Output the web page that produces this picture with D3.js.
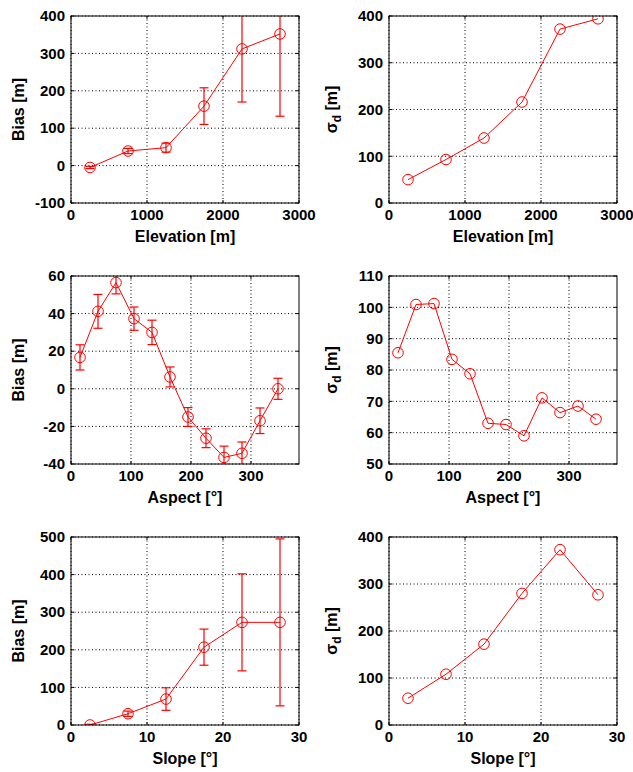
<!DOCTYPE html>
<html>
<head>
<meta charset="utf-8">
<script src="https://cdn.jsdelivr.net/npm/d3@7"></script>
<style>
  body { margin: 0; background: #fff; }
  svg text { font-family: "Liberation Sans", Arial, sans-serif; font-weight: bold; fill: #000; }
</style>
</head>
<body>
<svg id="fig" width="633" height="772"></svg>
<script>
// values
const elevBins = [250, 750, 1250, 1750, 2250, 2750];
const elevBias = [-5, 39, 48, 159, 312, 352];
const elevBiasErr = [3, 7, 12, 49, 142, 220];
const elevSigma = [50, 93, 139, 216, 372, 394];

const aspectBins = [15, 45, 75, 105, 135, 165, 195, 225, 255, 285, 315, 345];
const aspectBias = [16.7, 41.2, 56.5, 37.3, 30, 6.3, -15, -26.3, -36.5, -34.3, -17, 0];
const aspectBiasErr = [6.7, 9, 6, 6.2, 6.5, 5.3, 5, 5, 6, 6, 6.8, 5.6];
const aspectSigma = [85.5, 100.9, 101.2, 83.4, 78.8, 63, 62.6, 59, 71.1, 66.4, 68.5, 64.3];

const slopeBins = [2.5, 7.5, 12.5, 17.5, 22.5, 27.5];
const slopeBias = [0, 30, 69, 207, 273, 273];
const slopeBiasErr = [2, 7, 30, 48, 129, 222];
const slopeSigma = [57, 108, 172, 280, 373, 277];

const elevTicks = [0, 1000, 2000, 3000];
const aspectTicks = [0, 100, 200, 300];
const slopeTicks = [0, 10, 20, 30];

const svg = d3.select("#fig");
svg.append("rect").attr("width", 633).attr("height", 772).attr("fill", "#fff");

let clipId = 0;

function drawPanel(opt) {
    const g = svg.append("g");
    const x = d3.scaleLinear().domain(opt.xDomain).range([opt.left, opt.right]);
    const y = d3.scaleLinear().domain(opt.yDomain).range([opt.bottom, opt.top]);

    // grid (dotted)
    g.selectAll(".gx").data(opt.xTicks).join("line")
        .attr("x1", d => x(d)).attr("x2", d => x(d))
        .attr("y1", opt.top).attr("y2", opt.bottom)
        .attr("stroke", "#000").attr("stroke-width", 1).attr("stroke-dasharray", "1,2.5");
    g.selectAll(".gy").data(opt.yTicks).join("line")
        .attr("y1", d => y(d)).attr("y2", d => y(d))
        .attr("x1", opt.left).attr("x2", opt.right)
        .attr("stroke", "#000").attr("stroke-width", 1).attr("stroke-dasharray", "1,2.5");

    // data
    const id = "clip" + (clipId++);
    g.append("clipPath").attr("id", id).append("rect")
        .attr("x", opt.left).attr("y", opt.top)
        .attr("width", opt.right - opt.left).attr("height", opt.bottom - opt.top);
    const dg = g.append("g").attr("clip-path", `url(#${id})`);
    const pts = opt.xs.map((v, i) => ({x: v, y: opt.ys[i], e: opt.errs ? opt.errs[i] : null}));

    dg.append("path").datum(pts)
        .attr("d", d3.line().x(d => x(d.x)).y(d => y(d.y)))
        .attr("fill", "none").attr("stroke", "#ff0000").attr("stroke-width", 1);

    if (opt.errs) {
        const cap = 4.5;
        dg.selectAll(".eb").data(pts).join("line")
            .attr("x1", d => x(d.x)).attr("x2", d => x(d.x))
            .attr("y1", d => y(d.y - d.e)).attr("y2", d => y(d.y + d.e))
            .attr("stroke", "#ff0000").attr("stroke-width", 1.2);
        [-1, 1].forEach(s => {
            dg.selectAll(".cap" + s).data(pts).join("line")
                .attr("x1", d => x(d.x) - cap).attr("x2", d => x(d.x) + cap)
                .attr("y1", d => y(d.y + s * d.e)).attr("y2", d => y(d.y + s * d.e))
                .attr("stroke", "#ff0000").attr("stroke-width", 1.2);
        });
    }

    dg.selectAll(".mk").data(pts).join("circle")
        .attr("cx", d => x(d.x)).attr("cy", d => y(d.y)).attr("r", 5.3)
        .attr("fill", "none").attr("stroke", "#ff0000").attr("stroke-width", 1);

    // box with inward ticks
    g.append("rect")
        .attr("x", opt.left).attr("y", opt.top)
        .attr("width", opt.right - opt.left).attr("height", opt.bottom - opt.top)
        .attr("fill", "none").attr("stroke", "#000").attr("stroke-width", 1);
    const tl = 3;
    opt.xTicks.forEach(t => {
        g.append("line").attr("x1", x(t)).attr("x2", x(t)).attr("y1", opt.bottom).attr("y2", opt.bottom - tl).attr("stroke", "#000");
        g.append("line").attr("x1", x(t)).attr("x2", x(t)).attr("y1", opt.top).attr("y2", opt.top + tl).attr("stroke", "#000");
    });
    opt.yTicks.forEach(t => {
        g.append("line").attr("y1", y(t)).attr("y2", y(t)).attr("x1", opt.left).attr("x2", opt.left + tl).attr("stroke", "#000");
        g.append("line").attr("y1", y(t)).attr("y2", y(t)).attr("x1", opt.right).attr("x2", opt.right - tl).attr("stroke", "#000");
    });

    // tick labels
    g.selectAll(".xl").data(opt.xTicks).join("text")
        .attr("x", d => x(d)).attr("y", opt.bottom + 16.5)
        .attr("text-anchor", "middle").attr("font-size", 15)
        .text(d => d);
    g.selectAll(".yl").data(opt.yTicks).join("text")
        .attr("x", opt.left - 6).attr("y", d => y(d))
        .attr("dy", "0.35em").attr("text-anchor", "end").attr("font-size", 15)
        .text(d => d);

    // axis labels
    g.append("text")
        .attr("x", (opt.left + opt.right) / 2).attr("y", opt.bottom + 39)
        .attr("text-anchor", "middle").attr("font-size", 16)
        .text(opt.xLabel);
    const yl = g.append("text")
        .attr("transform", `translate(${opt.left - opt.yLabelGap},${(opt.top + opt.bottom) / 2}) rotate(-90)`)
        .attr("text-anchor", "middle").attr("font-size", 16);
    if (opt.sigma) {
        yl.append("tspan").text("σ");
        yl.append("tspan").attr("dy", 4).attr("font-size", 12).text("d");
        yl.append("tspan").attr("dy", -4).text(" [m]");
    } else {
        yl.text(opt.yLabel);
    }
}

const cols = [{left: 71, right: 299, gap: 47}, {left: 389, right: 617, gap: 52}];
const rows = [{top: 16, bottom: 203}, {top: 276, bottom: 464}, {top: 537, bottom: 725}];

function panel(r, c, o) {
    drawPanel(Object.assign({
        left: cols[c].left, right: cols[c].right, yLabelGap: cols[c].gap,
        top: rows[r].top, bottom: rows[r].bottom
    }, o));
}

panel(0, 0, {xs: elevBins, ys: elevBias, errs: elevBiasErr, xDomain: [0, 3000], yDomain: [-100, 400],
    xTicks: elevTicks, yTicks: [-100, 0, 100, 200, 300, 400], xLabel: "Elevation [m]", yLabel: "Bias [m]"});
panel(0, 1, {xs: elevBins, ys: elevSigma, xDomain: [0, 3000], yDomain: [0, 400],
    xTicks: elevTicks, yTicks: [0, 100, 200, 300, 400], xLabel: "Elevation [m]", sigma: true});
panel(1, 0, {xs: aspectBins, ys: aspectBias, errs: aspectBiasErr, xDomain: [0, 380], yDomain: [-40, 60],
    xTicks: aspectTicks, yTicks: [-40, -20, 0, 20, 40, 60], xLabel: "Aspect [°]", yLabel: "Bias [m]"});
panel(1, 1, {xs: aspectBins, ys: aspectSigma, xDomain: [0, 380], yDomain: [50, 110],
    xTicks: aspectTicks, yTicks: [50, 60, 70, 80, 90, 100, 110], xLabel: "Aspect [°]", sigma: true});
panel(2, 0, {xs: slopeBins, ys: slopeBias, errs: slopeBiasErr, xDomain: [0, 30], yDomain: [0, 500],
    xTicks: slopeTicks, yTicks: [0, 100, 200, 300, 400, 500], xLabel: "Slope [°]", yLabel: "Bias [m]"});
panel(2, 1, {xs: slopeBins, ys: slopeSigma, xDomain: [0, 30], yDomain: [0, 400],
    xTicks: slopeTicks, yTicks: [0, 100, 200, 300, 400], xLabel: "Slope [°]", sigma: true});
</script>
</body>
</html>
